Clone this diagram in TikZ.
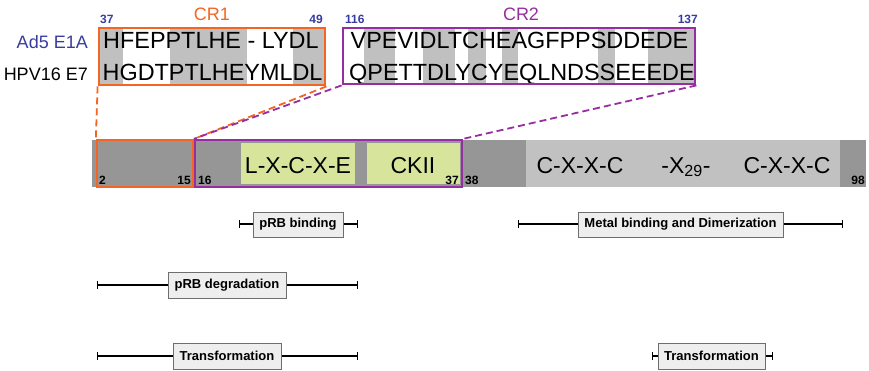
\documentclass[tikz,border=0pt]{standalone}
\usepackage{fontspec}
\setmainfont{Liberation Sans}
\usetikzlibrary{arrows.meta}
\definecolor{cro}{RGB}{242,101,34}
\definecolor{crp}{RGB}{150,45,160}
\definecolor{numblue}{RGB}{55,60,160}
\definecolor{bardark}{RGB}{150,150,150}
\definecolor{barlight}{RGB}{193,193,193}
\definecolor{seqgray}{RGB}{192,192,192}
\definecolor{motif}{RGB}{214,228,156}
\definecolor{fnfill}{RGB}{238,238,238}
\definecolor{fnline}{RGB}{110,110,110}
\begin{document}
\begin{tikzpicture}[x=1pt,y=-1pt,
  seq/.style={anchor=base west, inner sep=0, font=\fontsize{23.4}{24}\selectfont},
  lbl/.style={anchor=base east, inner sep=0, font=\fontsize{18}{18}\selectfont},
  topnum/.style={inner sep=0, font=\fontsize{12}{12}\selectfont\bfseries, text=numblue},
  crlabel/.style={anchor=base, inner sep=0, font=\fontsize{18}{18}\selectfont},
  barnum/.style={inner sep=0, font=\fontsize{12}{12}\selectfont\bfseries},
  motiftext/.style={anchor=base, inner sep=0, font=\fontsize{23}{23}\selectfont},
  crbox/.style={draw, line width=2.8pt, inner sep=0, minimum height=#1},
  regbox/.style={draw, line width=2.3pt, inner sep=0, minimum height=47pt},
  conn/.style={line width=1.8pt, dash pattern=on 7pt off 4pt},
  fn/.style={draw=fnline, fill=fnfill, line width=0.8pt, inner sep=0, minimum height=25pt,
    font=\fontsize{13}{13}\selectfont\bfseries},
  span/.style={line width=1.3pt, {Bar[width=8pt]}-{Bar[width=8pt]}}
]
\useasboundingbox (0,0) rectangle (869,370);

% ---- sequence shading ----
\fill[seqgray] (100,28) rectangle (123,85);
\fill[seqgray] (170,28) rectangle (247,85);
\fill[seqgray] (293,28) rectangle (325,85);
\fill[seqgray] (364,28) rectangle (395,84);
\fill[seqgray] (423,28) rectangle (455,84);
\fill[seqgray] (468,28) rectangle (486,84);
\fill[seqgray] (502,28) rectangle (518,84);
\fill[seqgray] (598,28) rectangle (615,84);
\fill[seqgray] (648,28) rectangle (695,84);

% ---- sequences ----
\node[seq] (s1a) at (103,48) {HFEPPTLHE - LYDL};
\node[seq] (s1b) at (102.5,80) {HGDTPTLHEYMLDL};
\node[seq] (s2a) at (350.5,48) {VPEVIDLTCHEAGFPPSDDEDE};
\node[seq] (s2b) at (349,80) {QPETTDLYCYEQLNDSSEEEDE};

\node[lbl, text=numblue] (l1) at (88,48) {Ad5 E1A};
\node[lbl] (l2) at (88,80) {HPV16 E7};

% ---- CR boxes ----
\node[crbox=57pt, draw=cro, minimum width=226pt] (cr1) at (212,56.5) {};
\node[crbox=56pt, draw=crp, minimum width=352pt] (cr2) at (519,56) {};

\node[crlabel, text=cro] (cr1t) at (212,20) {CR1};
\node[crlabel, text=crp] (cr2t) at (521,20) {CR2};
\node[topnum, anchor=base west] (n37) at (100,23) {37};
\node[topnum, anchor=base east] (n49) at (323,23) {49};
\node[topnum, anchor=base west] (n116) at (345,23) {116};
\node[topnum, anchor=base east] (n137) at (698,23) {137};

% ---- protein bar ----
\fill[bardark] (92,140) rectangle (866,187);
\fill[barlight] (526,140) rectangle (840,187);
\fill[motif] (241,143) rectangle (355,184);
\fill[motif] (367,143) rectangle (460,184);

\node[regbox, draw=cro, minimum width=96pt] (ob) at (145,163.5) {};
\node[regbox, draw=crp, minimum width=267pt] (pb) at (328.5,163.5) {};

\node[motiftext] (m1) at (298,173) {L-X-C-X-E};
\node[motiftext] (m2) at (413,173) {CKII};
\node[motiftext] (m3) at (580,173) {C-X-X-C};
\node[motiftext] (m4) at (686,173) {-X\textsubscript{29}-};
\node[motiftext] (m5) at (787,173) {C-X-X-C};

\node[barnum, anchor=base west] (b2) at (99,184) {2};
\node[barnum, anchor=base east] (b15) at (191,184) {15};
\node[barnum, anchor=base west] (b16) at (198,184) {16};
\node[barnum, anchor=base east] (b37) at (459,184) {37};
\node[barnum, anchor=base west] (b38) at (465,184) {38};
\node[barnum, anchor=base east] (b98) at (865,184) {98};

% ---- zoom connectors ----
\draw[conn, cro] (cr1.south west) -- (ob.north west);
\draw[conn, cro] (cr1.south east) -- (ob.north east);
\draw[conn, crp] (cr2.south west) -- (pb.north west);
\draw[conn, crp] (cr2.south east) -- (pb.north east);

% ---- functional regions ----
\coordinate (a1) at (239,224); \coordinate (a2) at (358,224);
\coordinate (b1) at (97,285);  \coordinate (b2) at (358,285);
\coordinate (c1) at (97,356);  \coordinate (c2) at (358,356);
\coordinate (d1) at (518,224); \coordinate (d2) at (843,224);
\coordinate (e1) at (652,356); \coordinate (e2) at (773,356);
\draw[span] (a1) -- (a2);
\draw[span] (b1) -- (b2);
\draw[span] (c1) -- (c2);
\draw[span] (d1) -- (d2);
\draw[span] (e1) -- (e2);
\node[fn, minimum width=90pt] (f1) at (298,224.5) {pRB binding};
\node[fn, minimum width=118pt, minimum height=26pt] (f2) at (227,285) {pRB degradation};
\node[fn, minimum width=108pt, minimum height=26pt] (f3) at (227,356) {Transformation};
\node[fn, minimum width=205pt] (f4) at (680.5,224.5) {Metal binding and Dimerization};
\node[fn, minimum width=107pt, minimum height=26pt] (f5) at (711.5,356) {Transformation};
\end{tikzpicture}
\end{document}
